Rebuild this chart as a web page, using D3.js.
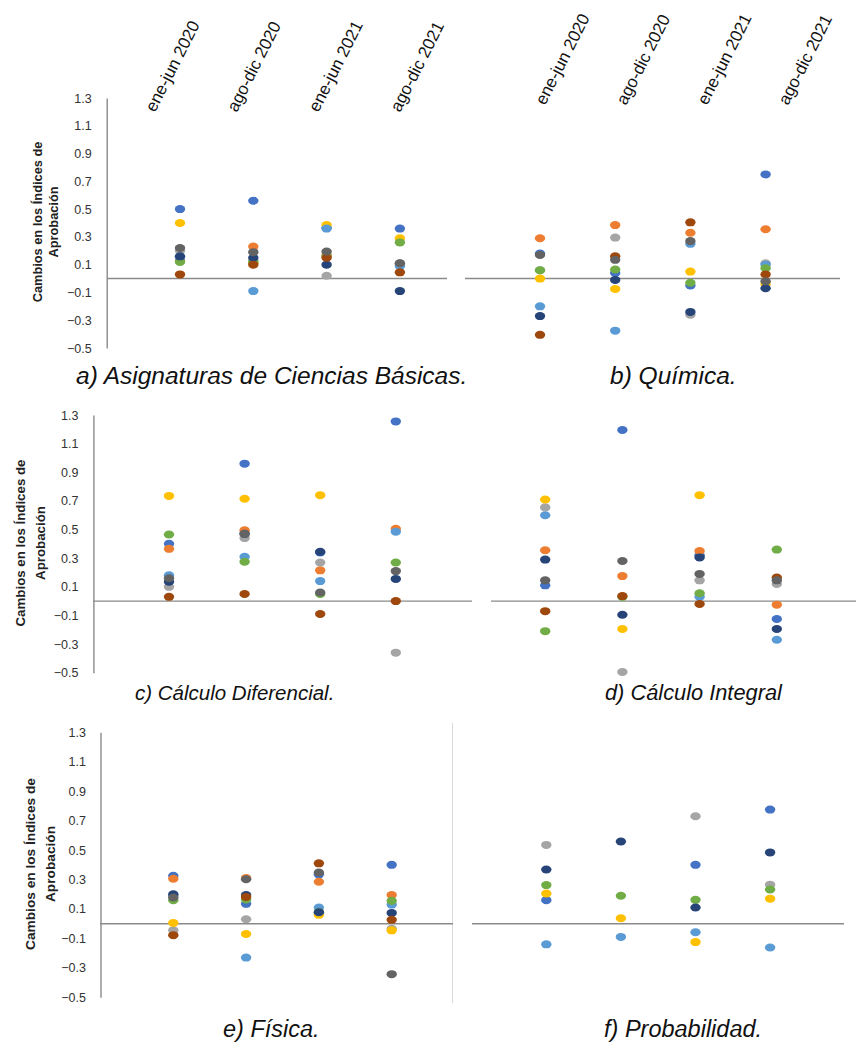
<!DOCTYPE html>
<html>
<head>
<meta charset="utf-8">
<script src="https://cdn.jsdelivr.net/npm/d3@7"></script>
<style>
  body { margin: 0; background: #fff; }
  svg { display: block; font-family: "Liberation Sans", Arial, sans-serif; }
</style>
</head>
<body>
<svg id="chart" width="856" height="1042"></svg>
<script>
// Periodos (eje x) y ticks del eje y
const periods = ['ene-jun 2020', 'ago-dic 2020', 'ene-jun 2021', 'ago-dic 2021'];
const yTicks = [1.3, 1.1, 0.9, 0.7, 0.5, 0.3, 0.1, -0.1, -0.3, -0.5];
const yTitle = ['Cambios en los Índices de', 'Aprobación'];

// Colores de las series (paleta de Office), en orden de dibujo
const seriesColors = ['#4472C4', '#ED7D31', '#A5A5A5', '#FFC000', '#5B9BD5',
                      '#70AD47', '#264478', '#9E480E', '#636363'];

const captions = ['a) Asignaturas de Ciencias Básicas.', 'b) Química.',
                  'c) Cálculo Diferencial.', 'd) Cálculo Integral',
                  'e) Física.', 'f) Probabilidad.'];

// Valores, una fila por serie
const basicas = [
  [0.50, 0.56, 0.365, 0.36],
  [0.13, 0.23, 0.17, 0.10],
  [0.20, 0.13, 0.02, 0.11],
  [0.40, 0.11, 0.385, 0.29],
  [0.15, -0.09, 0.36, 0.09],
  [0.12, 0.12, 0.16, 0.26],
  [0.16, 0.15, 0.10, -0.09],
  [0.03, 0.10, 0.15, 0.045],
  [0.22, 0.19, 0.195, 0.11]
];
const quimica = [
  [0.18, 0.04, -0.05, 0.75],
  [0.29, 0.385, 0.33, 0.355],
  [0.06, 0.295, -0.26, 0.11],
  [0.00, -0.075, 0.05, -0.04],
  [-0.20, -0.375, 0.25, 0.10],
  [0.06, 0.065, -0.03, 0.075],
  [-0.27, -0.01, -0.24, -0.07],
  [-0.405, 0.16, 0.405, 0.03],
  [0.17, 0.135, 0.27, -0.02]
];
const diferencial = [
  [0.40, 0.96, 0.34, 1.255],
  [0.365, 0.495, 0.215, 0.505],
  [0.10, 0.44, 0.27, -0.36],
  [0.735, 0.715, 0.74, null],
  [0.18, 0.31, 0.14, 0.485],
  [0.465, 0.275, 0.05, 0.27],
  [0.135, 0.47, 0.345, 0.155],
  [0.03, 0.05, -0.09, 0.00],
  [0.16, 0.47, 0.06, 0.21]
];
const integral = [
  [0.11, 1.195, 0.32, -0.125],
  [0.355, 0.175, 0.35, -0.025],
  [0.655, -0.495, 0.145, 0.12],
  [0.71, -0.195, 0.74, null],
  [0.60, null, 0.03, -0.27],
  [-0.21, 0.03, 0.055, 0.36],
  [0.29, -0.095, 0.305, -0.195],
  [-0.07, 0.035, -0.02, 0.165],
  [0.145, 0.28, 0.19, 0.145]
];
const fisica = [
  [0.325, 0.135, 0.335, 0.40],
  [0.305, 0.31, 0.285, 0.195],
  [-0.045, 0.03, 0.07, -0.035],
  [0.005, -0.07, 0.06, -0.045],
  [0.19, -0.23, 0.11, 0.13],
  [0.16, 0.165, 0.08, 0.155],
  [0.20, 0.195, 0.078, 0.073],
  [-0.078, 0.182, 0.41, 0.026],
  [0.178, 0.302, 0.348, -0.343]
];
const probabilidad = [
  [0.16, null, 0.40, 0.775],
  [null, null, null, null],
  [0.535, null, 0.73, 0.265],
  [0.205, 0.037, -0.125, 0.17],
  [-0.14, -0.09, -0.058, -0.162],
  [0.262, 0.19, 0.162, 0.232],
  [0.368, 0.558, 0.11, 0.484],
  [null, null, null, null],
  [null, null, null, null]
];

const panelData = [basicas, quimica, diferencial, integral, fisica, probabilidad];

// Posición de cada panel en la página
const layout = [
  { x0: 106.7, unit: 73.3, line: [107, 447], y: [98, 348], axis: 15,
    title: { x1: 37, x2: 53, cy: 222, size: 12.8 },
    labels: { range: [155, 400], y: 113 }, cap: { x: 76, y: 384, size: 24.5 } },
  { x0: 464.8, unit: 75.2, line: [465, 840], y: [98, 348],
    labels: { range: [545, 788], y: 106 }, cap: { x: 610, y: 384, size: 24.5 } },
  { x0: 93.4, unit: 75.6, line: [93, 472], y: [415, 672.7], axis: 15,
    title: { x1: 20, x2: 40, cy: 543, size: 13.3 },
    cap: { x: 135, y: 700, size: 20.5 } },
  { x0: 468, unit: 77.2, line: [491, 856], y: [415, 672.7],
    cap: { x: 605, y: 700, size: 21.8 } },
  { x0: 100.5, unit: 72.8, line: [100, 453], y: [732.3, 997.3], axis: 14.5,
    title: { x1: 30.7, x2: 50.7, cy: 864, size: 13.7 },
    cap: { x: 223, y: 1037, size: 23.5 } },
  { x0: 471.7, unit: 74.6, line: [472, 844], y: [732.3, 997.3],
    cap: { x: 604, y: 1037, size: 23.5 } }
];

const svg = d3.select('#chart');
svg.append('rect').attr('width', 856).attr('height', 1042).attr('fill', '#fff');

// separador vertical entre e) y f)
svg.append('line')
  .attr('x1', 452.5).attr('x2', 452.5).attr('y1', 723).attr('y2', 1003)
  .attr('stroke', '#d9d9d9').attr('stroke-width', 1);

layout.forEach((L, p) => {
  const g = svg.append('g');
  const x = d3.scaleLinear().domain([0, 5]).range([L.x0, L.x0 + 5 * L.unit]);
  const y = d3.scaleLinear().domain([1.3, -0.5]).range(L.y);

  if (L.axis) {
    const ax = g.append('g')
      .attr('transform', `translate(${L.x0},0)`)
      .call(d3.axisLeft(y).tickValues(yTicks).tickSize(0).tickSizeOuter(0)
        .tickPadding(L.axis).tickFormat(d3.format('.1f')));
    ax.select('.domain').attr('stroke', '#8a8a8a').attr('stroke-width', 1.4);
    ax.selectAll('text').attr('font-size', 12.5).attr('fill', '#333')
      .attr('font-family', '"Liberation Sans", Arial, sans-serif');

    const t = L.title;
    [t.x1, t.x2].forEach((cx, i) => {
      g.append('text')
        .attr('transform', `translate(${cx},${t.cy}) rotate(-90)`)
        .attr('text-anchor', 'middle').attr('dominant-baseline', 'central')
        .attr('font-size', t.size).attr('font-weight', 'bold').attr('fill', '#222')
        .text(yTitle[i]);
    });
  }

  // línea del cero
  g.append('line')
    .attr('x1', L.line[0]).attr('x2', L.line[1])
    .attr('y1', y(0)).attr('y2', y(0))
    .attr('stroke', '#8a8a8a').attr('stroke-width', 1.4);

  // etiquetas de periodo (solo fila superior)
  if (L.labels) {
    const lx = d3.scalePoint().domain(periods).range(L.labels.range);
    g.selectAll('.period')
      .data(periods).enter().append('text')
      .attr('class', 'period')
      .attr('transform', d => `translate(${lx(d)},${L.labels.y}) rotate(-63)`)
      .attr('font-size', 17).attr('fill', '#111')
      .text(d => d);
  }

  // puntos
  panelData[p].forEach((vals, s) => {
    const pts = vals.map((v, i) => ({ i, v })).filter(d => d.v !== null);
    g.selectAll(null)
      .data(pts).enter().append('ellipse')
      .attr('cx', d => x(d.i + 1))
      .attr('cy', d => y(d.v))
      .attr('rx', 5.2).attr('ry', 4)
      .attr('fill', seriesColors[s]);
  });

  g.append('text')
    .attr('x', L.cap.x).attr('y', L.cap.y)
    .attr('font-size', L.cap.size).attr('font-style', 'italic').attr('fill', '#111')
    .text(captions[p]);
});
</script>
</body>
</html>
